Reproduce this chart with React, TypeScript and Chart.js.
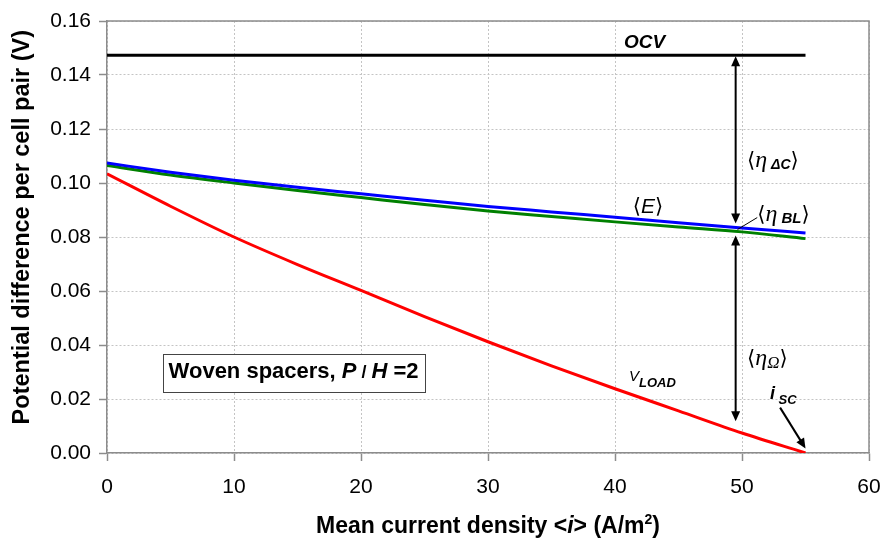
import React, { useEffect, useRef } from 'react';
import { Chart, registerables } from 'chart.js';

Chart.register(...registerables);

// ---------- data ----------
const currentDensity = [0, 5, 10, 15, 20, 25, 30, 35, 40, 45, 50, 55];
const meanE = [0.1074, 0.1040, 0.1010, 0.0984, 0.0960, 0.0936, 0.0913, 0.0893, 0.0873, 0.0853, 0.0833, 0.0815];
const eMinusBL = [0.1065, 0.1030, 0.1000, 0.0972, 0.0946, 0.0920, 0.0896, 0.0876, 0.0856, 0.0837, 0.0819, 0.0794];
const vLoad = [0.1034, 0.0914, 0.0800, 0.0698, 0.0602, 0.0505, 0.0412, 0.0323, 0.0238, 0.0156, 0.0074, 0.0];
const ocvX = [0, 55];
const ocvV = [0.1473, 0.1473];

const xTicks = [0, 10, 20, 30, 40, 50, 60];
const yTicks = [0, 0.02, 0.04, 0.06, 0.08, 0.1, 0.12, 0.14, 0.16];

const xTitleParts = ['Mean current density <', 'i', '> (A/m', '2', ')'];
const yTitle = '   Potential difference per cell pair (V)';
const boxLabel = ['Woven spacers, ', 'P', ' / ', 'H', ' =2'];

const SANS = '"Liberation Sans", Arial, sans-serif';
const SERIF = '"Liberation Serif", "DejaVu Serif", serif';
const BRK = '"DejaVu Sans", sans-serif';

type Seg = { t: string; f: string; dy?: number };

function measureRich(ctx: CanvasRenderingContext2D, segs: Seg[]) {
  let w = 0;
  for (const s of segs) { ctx.font = s.f; w += ctx.measureText(s.t).width; }
  return w;
}

function drawRich(ctx: CanvasRenderingContext2D, x: number, y: number, segs: Seg[]) {
  let cx = x;
  for (const s of segs) {
    ctx.font = s.f;
    ctx.fillText(s.t, cx, y + (s.dy || 0));
    cx += ctx.measureText(s.t).width;
  }
  return cx;
}

function arrowHead(ctx: CanvasRenderingContext2D, x1: number, y1: number, x2: number, y2: number) {
  const ang = Math.atan2(y2 - y1, x2 - x1);
  const len = 10, w = 4.5;
  ctx.beginPath();
  ctx.moveTo(x2, y2);
  ctx.lineTo(x2 - len * Math.cos(ang) + w * Math.sin(ang), y2 - len * Math.sin(ang) - w * Math.cos(ang));
  ctx.lineTo(x2 - len * Math.cos(ang) - w * Math.sin(ang), y2 - len * Math.sin(ang) + w * Math.cos(ang));
  ctx.closePath();
  ctx.fill();
}

function arrow(ctx: CanvasRenderingContext2D, x1: number, y1: number, x2: number, y2: number, both: boolean) {
  const ang = Math.atan2(y2 - y1, x2 - x1);
  ctx.beginPath();
  ctx.moveTo(x1 + (both ? 8 * Math.cos(ang) : 0), y1 + (both ? 8 * Math.sin(ang) : 0));
  ctx.lineTo(x2 - 8 * Math.cos(ang), y2 - 8 * Math.sin(ang));
  ctx.stroke();
  arrowHead(ctx, x1, y1, x2, y2);
  if (both) arrowHead(ctx, x2, y2, x1, y1);
}

const annotationPlugin = {
  id: 'annotations',
  beforeDatasetsDraw(chart: any) {
    const { ctx, chartArea: a } = chart;
    ctx.save();
    ctx.strokeStyle = '#8c8c8c';
    ctx.lineWidth = 1.5;
    ctx.beginPath();
    ctx.moveTo(a.left, a.top);
    ctx.lineTo(a.right, a.top);
    ctx.lineTo(a.right, a.bottom);
    ctx.stroke();
    ctx.restore();
  },
  afterDatasetsDraw(chart: any) {
    const { ctx, chartArea: a } = chart;
    const xs = chart.scales.x, ys = chart.scales.y;
    const X = (v: number) => xs.getPixelForValue(v);
    const Y = (v: number) => ys.getPixelForValue(v);
    ctx.save();
    ctx.fillStyle = '#000';
    ctx.strokeStyle = '#000';
    ctx.textBaseline = 'alphabetic';
    ctx.textAlign = 'left';

    // x-axis title (rich text for italic i and superscript 2)
    const tsegs: Seg[] = [
      { t: xTitleParts[0], f: `bold 23px ${SANS}` },
      { t: xTitleParts[1], f: `italic bold 23px ${SANS}` },
      { t: xTitleParts[2], f: `bold 23px ${SANS}` },
      { t: xTitleParts[3], f: `bold 14px ${SANS}`, dy: -9 },
      { t: xTitleParts[4], f: `bold 23px ${SANS}` },
    ];
    const tw = measureRich(ctx, tsegs);
    drawRich(ctx, (a.left + a.right) / 2 - tw / 2, 533, tsegs);

    // OCV
    drawRich(ctx, X(40.7), Y(0.1501), [{ t: 'OCV', f: `italic bold 19px ${SANS}` }]);

    // arrows
    ctx.lineWidth = 2;
    arrow(ctx, X(49.5), Y(0.1469), X(49.5), Y(0.0850), true);
    arrow(ctx, X(49.5), Y(0.0806), X(49.5), Y(0.0118), true);
    arrow(ctx, X(53.0), Y(0.0168), X(55.0), Y(0.0017), false);
    ctx.lineWidth = 1;
    ctx.beginPath();
    ctx.moveTo(X(51.2), Y(0.0872));
    ctx.lineTo(X(49.65), Y(0.0828));
    ctx.stroke();

    // labels
    drawRich(ctx, X(50.4), Y(0.1060), [
      { t: '⟨', f: `21px ${BRK}` },
      { t: 'η', f: `italic 24px ${SERIF}` },
      { t: ' ΔC', f: `italic bold 14px ${SANS}`, dy: 2 },
      { t: '⟩', f: `21px ${BRK}` },
    ]);
    drawRich(ctx, X(51.2), Y(0.0860), [
      { t: '⟨', f: `21px ${BRK}` },
      { t: 'η', f: `italic 24px ${SERIF}` },
      { t: ' BL', f: `italic bold 15px ${SANS}`, dy: 2 },
      { t: '⟩', f: `21px ${BRK}` },
    ]);
    drawRich(ctx, X(41.4), Y(0.0888), [
      { t: '⟨', f: `21px ${BRK}` },
      { t: 'E', f: `italic 21px ${SANS}` },
      { t: '⟩', f: `21px ${BRK}` },
    ]);
    drawRich(ctx, X(50.4), Y(0.0325), [
      { t: '⟨', f: `21px ${BRK}` },
      { t: 'η', f: `italic 24px ${SERIF}` },
      { t: 'Ω', f: `italic 17px ${SERIF}`, dy: 3 },
      { t: '⟩', f: `21px ${BRK}` },
    ]);
    drawRich(ctx, X(41.1), Y(0.0265), [
      { t: 'V', f: `italic 15px ${SANS}` },
      { t: 'LOAD', f: `italic bold 13px ${SANS}`, dy: 6 },
    ]);
    drawRich(ctx, X(52.2), Y(0.0200), [
      { t: 'i', f: `italic bold 18px ${SANS}` },
      { t: ' SC', f: `italic bold 13px ${SANS}`, dy: 5 },
    ]);

    // text box
    const bx = X(4.85), by = Y(0.0277);
    const segs: Seg[] = [
      { t: boxLabel[0], f: `bold 22px ${SANS}` },
      { t: boxLabel[1], f: `italic bold 22px ${SANS}` },
      { t: boxLabel[2], f: `bold 18px ${SANS}` },
      { t: boxLabel[3], f: `italic bold 22px ${SANS}` },
      { t: boxLabel[4], f: `bold 22px ${SANS}` },
    ];
    const w = measureRich(ctx, segs);
    ctx.fillStyle = '#fff';
    ctx.fillRect(bx - 6, by - 24, w + 12, 38);
    ctx.strokeStyle = '#444';
    ctx.lineWidth = 1;
    ctx.strokeRect(Math.round(bx - 6) + 0.5, Math.round(by - 24) + 0.5, Math.round(w + 12), 38);
    ctx.fillStyle = '#000';
    drawRich(ctx, bx, by, segs);
    ctx.restore();
  },
};

export default function App() {
  const ref = useRef<HTMLCanvasElement | null>(null);
  useEffect(() => {
    if (!ref.current) return;
    const pts = (xs: number[], ys: number[]) => xs.map((x, i) => ({ x, y: ys[i] }));
    const chart = new Chart(ref.current, {
      type: 'line',
      data: {
        datasets: [
          { label: 'OCV', data: pts(ocvX, ocvV), borderColor: '#000', borderWidth: 3, pointRadius: 0 },
          { label: '<E>', data: pts(currentDensity, meanE), borderColor: '#0000ff', borderWidth: 3, pointRadius: 0 },
          { label: '<E> - <ηBL>', data: pts(currentDensity, eMinusBL), borderColor: '#008000', borderWidth: 3, pointRadius: 0 },
          { label: 'V LOAD', data: pts(currentDensity, vLoad), borderColor: '#ff0000', borderWidth: 3, pointRadius: 0 },
        ],
      },
      options: {
        responsive: false,
        animation: false,
        layout: { padding: { top: 21, right: 16, left: 0, bottom: 0 } },
        plugins: { legend: { display: false }, tooltip: { enabled: false } },
        elements: { line: { cubicInterpolationMode: 'monotone' } },
        scales: {
          x: {
            type: 'linear',
            min: xTicks[0],
            max: xTicks[xTicks.length - 1],
            afterBuildTicks: (s: any) => { s.ticks = xTicks.map((v) => ({ value: v })); },
            ticks: { font: { family: SANS, size: 21 }, color: '#000', padding: 14, maxRotation: 0 },
            grid: { color: '#c4c4c4', lineWidth: 1, tickColor: '#8c8c8c', tickLength: 8, tickWidth: 1.5 },
            border: { display: true, color: '#8c8c8c', width: 1.5, dash: [2, 2] },
            title: { display: false },
            afterFit: (s: any) => { s.height = 92; s.paddingLeft = 0; s.paddingRight = 0; },
          },
          y: {
            type: 'linear',
            min: yTicks[0],
            max: yTicks[yTicks.length - 1],
            afterBuildTicks: (s: any) => { s.ticks = yTicks.map((v) => ({ value: v })); },
            ticks: { font: { family: SANS, size: 21 }, color: '#000', padding: 8, callback: (v: any) => Number(v).toFixed(2) },
            grid: { color: '#c4c4c4', lineWidth: 1, tickColor: '#8c8c8c', tickLength: 8, tickWidth: 1.5 },
            border: { display: true, color: '#8c8c8c', width: 1.5, dash: [2, 2] },
            title: { display: true, text: yTitle, color: '#000', font: { family: SANS, size: 23.5, weight: 'bold' }, padding: { top: 8, bottom: 0 } },
            afterFit: (s: any) => { s.width = 107; s.paddingTop = 0; s.paddingBottom = 0; },
          },
        },
      },
      plugins: [annotationPlugin],
    } as any);
    return () => chart.destroy();
  }, []);
  return (
    <div style={{ position: 'absolute', left: 0, top: 0, width: 885, height: 545, background: '#fff' }}>
      <canvas ref={ref} width={885} height={545} />
    </div>
  );
}
